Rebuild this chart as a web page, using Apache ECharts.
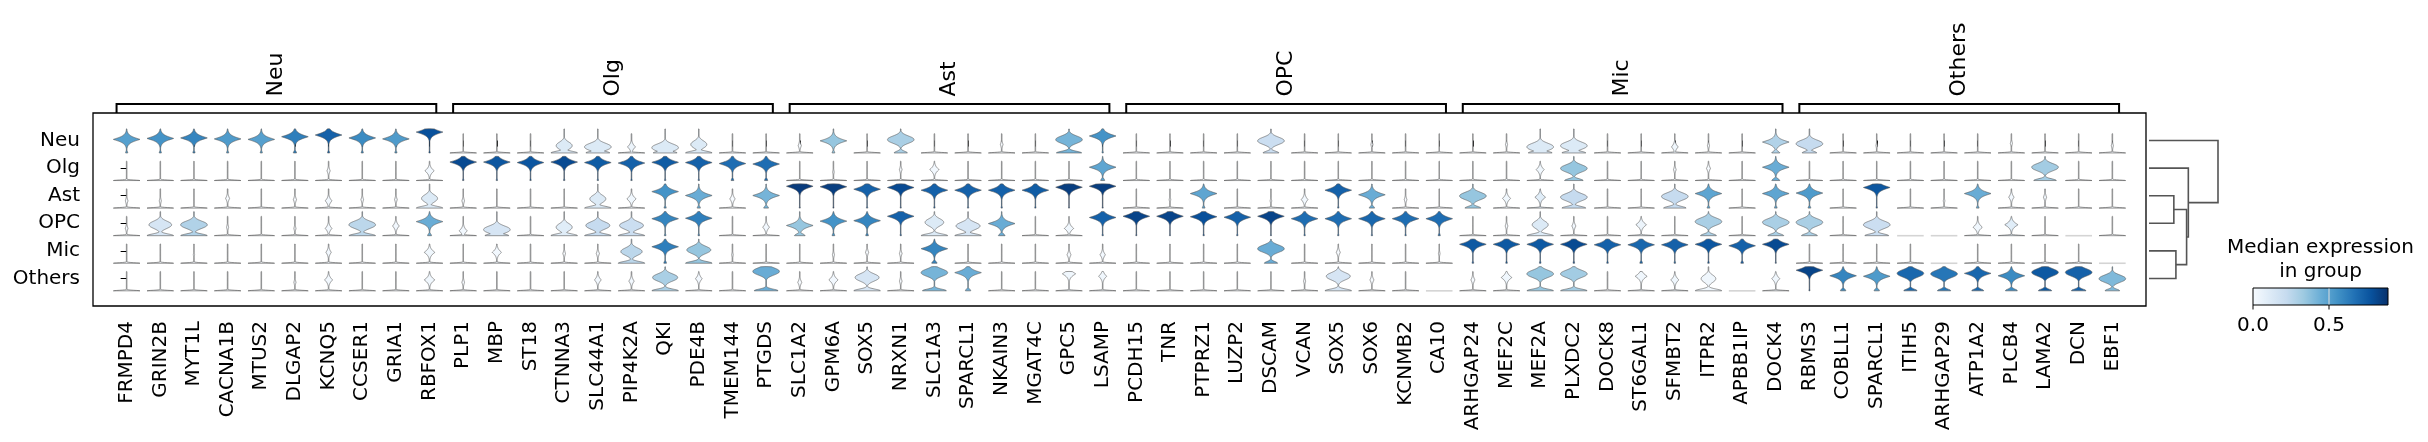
<!DOCTYPE html>
<html><head><meta charset="utf-8">
<script src="https://cdn.jsdelivr.net/npm/echarts@6/dist/echarts.min.js"></script>
<style>html,body{margin:0;padding:0;background:#fff}#c{width:2428px;height:442px}</style>
</head><body><div id="c"></div>
<script>
// ---------- data ----------
const GENES = ['FRMPD4','GRIN2B','MYT1L','CACNA1B','MTUS2','DLGAP2','KCNQ5','CCSER1','GRIA1','RBFOX1',
  'PLP1','MBP','ST18','CTNNA3','SLC44A1','PIP4K2A','QKI','PDE4B','TMEM144','PTGDS',
  'SLC1A2','GPM6A','SOX5','NRXN1','SLC1A3','SPARCL1','NKAIN3','MGAT4C','GPC5','LSAMP',
  'PCDH15','TNR','PTPRZ1','LUZP2','DSCAM','VCAN','SOX5','SOX6','KCNMB2','CA10',
  'ARHGAP24','MEF2C','MEF2A','PLXDC2','DOCK8','ST6GAL1','SFMBT2','ITPR2','APBB1IP','DOCK4',
  'RBMS3','COBLL1','SPARCL1','ITIH5','ARHGAP29','ATP1A2','PLCB4','LAMA2','DCN','EBF1'];
const GROUPS = ['Neu','Olg','Ast','OPC','Mic','Others'];
const GROUP_START = [0,10,20,30,40,50];
const GROUP_END = [9,19,29,39,49,59];
// each cell: [median expression (colour), peak position 0..1, blob width, width at zero]; blob width -1 = all zero
const NEU = [
[0.50,0.56,1,0.08],[0.55,0.60,1,0.08],[0.60,0.62,1,0.08],[0.52,0.58,1,0.08],[0.50,0.56,1,0.08],
[0.62,0.67,1,0.12],[0.72,0.74,1,0.08],[0.58,0.62,1,0.08],[0.52,0.58,1,0.08],[0.78,0.86,1,0.05],
[0,0,0,1],[0,0,0,1],[0,0,0,1],[0.12,0.3,0.6,1],[0.12,0.25,1,0.9],
[0.05,0.25,0.3,1],[0.12,0.22,1,0.9],[0.12,0.35,0.6,1],[0,0,0,1],[0,0,0,1],
[0,0.3,0.12,1],[0.35,0.5,1,0.1],[0,0,0,1],[0.3,0.55,1,0.5],[0,0,0,1],
[0,0,0,1],[0,0.35,0.1,1],[0,0,0,1],[0.42,0.55,1,0.95],[0.55,0.7,1,0.05],
[0,0,0,1],[0,0,0,1],[0,0,0,1],[0,0,0,1],[0.2,0.5,1,0.6],
[0,0,0,1],[0,0,0,1],[0,0.35,0.08,1],[0,0,0,1],[0,0,0,1],
[0,0,0,1],[0,0.35,0.08,1],[0.12,0.25,1,0.9],[0.12,0.3,1,0.9],[0,0,0,1],
[0,0,0,1],[0.03,0.25,0.25,1],[0,0.3,0.08,1],[0,0,0,1],[0.28,0.45,1,0.3],
[0.22,0.38,1,0.55],[0,0,0,1],[0,0.3,0.06,1],[0,0,0,1],[0,0,0,1],
[0,0,0,1],[0,0.4,0.08,1],[0,0,0,1],[0,0,0,1],[0,0.3,0.08,1]
];
const OLG = [
[0,0,0,1],[0,0,0,1],[0,0,0,1],[0,0,0,1],[0,0,0,1],
[0,0,0,1],[0,0.4,0.12,1],[0,0,0,1],[0,0,0,1],[0.02,0.4,0.35,1],
[0.80,0.76,1,0.05],[0.76,0.76,1,0.05],[0.76,0.74,1,0.05],[0.80,0.76,1,0.05],[0.74,0.74,1,0.05],
[0.72,0.72,1,0.05],[0.74,0.75,1,0.05],[0.72,0.74,1,0.05],[0.68,0.7,1,0.1],[0.68,0.68,1,0.12],
[0,0,0,1],[0,0.35,0.06,1],[0,0,0,1],[0,0.45,0.1,1],[0.02,0.45,0.35,1],
[0,0,0,1],[0,0,0,1],[0,0,0,1],[0,0,0,1],[0.48,0.55,1,0.15],
[0,0,0,1],[0,0,0,1],[0,0,0,1],[0,0,0,1],[0,0,0,1],
[0,0,0,1],[0,0,0,1],[0,0,0,1],[0,0,0,1],[0,0,0,1],
[0,0,0,1],[0,0,0,1],[0.03,0.45,0.3,1],[0.35,0.5,1,0.7],[0,0,0,1],
[0,0,0,1],[0,0.45,0.1,1],[0,0.5,0.15,1],[0,0,0,1],[0.45,0.55,1,0.3],
[0,0,0,1],[0,0,0,1],[0,0,0,1],[0,0,0,1],[0,0,0,1],
[0,0,0,1],[0,0,0,1],[0.32,0.55,1,0.85],[0,0,0,1],[0,0,0,1]
];
const AST = [
[0,0.3,0.1,1],[0,0.3,0.08,1],[0,0,0,1],[0,0.4,0.15,1],[0,0,0,1],
[0,0.35,0.12,1],[0.02,0.3,0.25,1],[0,0.35,0.1,1],[0,0.35,0.1,1],[0.12,0.4,0.6,1],
[0,0.3,0.1,1],[0,0,0,1],[0,0,0,1],[0,0,0,1],[0.12,0.38,0.6,1],
[0.03,0.38,0.35,1],[0.55,0.68,1,0.08],[0.45,0.52,1,0.12],[0,0.38,0.2,1],[0.42,0.52,1,0.18],
[0.85,0.9,1,0.04],[0.84,0.88,1,0.04],[0.72,0.78,1,0.05],[0.8,0.85,1,0.04],[0.72,0.74,1,0.05],
[0.72,0.74,1,0.05],[0.72,0.74,1,0.05],[0.74,0.74,1,0.05],[0.84,0.86,1,0.04],[0.84,0.9,1,0.04],
[0,0,0,1],[0,0.35,0.06,1],[0.48,0.6,1,0.1],[0,0,0,1],[0,0.3,0.06,1],
[0.02,0.35,0.25,1],[0.72,0.74,1,0.05],[0.45,0.55,1,0.2],[0,0.35,0.1,1],[0,0,0,1],
[0.35,0.5,1,0.6],[0.03,0.4,0.3,1],[0.1,0.45,0.4,1],[0.22,0.45,1,0.9],[0,0,0,1],
[0,0,0,1],[0.22,0.48,1,0.85],[0.48,0.6,1,0.1],[0,0,0,1],[0.48,0.6,1,0.1],
[0.52,0.62,1,0.1],[0,0,0,1],[0.76,0.85,1,0.05],[0,0,0,1],[0,0.3,0.06,1],
[0.45,0.6,1,0.1],[0.02,0.45,0.2,1],[0.02,0.45,0.12,1],[0,0,0,1],[0,0,0,1]
];
const OPC = [
[0,0.3,0.1,1],[0.15,0.45,0.85,1],[0.28,0.45,1,1],[0,0.35,0.08,1],[0,0,0,1],
[0,0.3,0.08,1],[0.02,0.3,0.25,1],[0.25,0.45,1,1],[0.02,0.4,0.25,1],[0.45,0.58,1,0.15],
[0.02,0.2,0.3,1],[0.15,0.25,1,0.9],[0,0,0,1],[0.1,0.35,0.6,1],[0.22,0.42,0.9,1],
[0.2,0.42,0.9,1],[0.6,0.7,1,0.06],[0.62,0.72,1,0.06],[0,0,0,1],[0.02,0.35,0.25,1],
[0.35,0.42,1,0.4],[0.55,0.6,1,0.1],[0.6,0.62,1,0.1],[0.72,0.8,1,0.05],[0.12,0.55,0.7,1],
[0.15,0.4,0.9,1],[0.45,0.5,1,0.25],[0,0,0,1],[0.03,0.3,0.35,1],[0.72,0.75,1,0.05],
[0.82,0.8,1,0.04],[0.82,0.8,1,0.04],[0.78,0.78,1,0.05],[0.72,0.76,1,0.05],[0.82,0.8,1,0.04],
[0.68,0.7,1,0.05],[0.68,0.7,1,0.05],[0.7,0.7,1,0.05],[0.68,0.7,1,0.05],[0.68,0.7,1,0.08],
[0,0,0,1],[0,0.4,0.1,1],[0.12,0.45,0.6,1],[0.02,0.4,0.15,1],[0,0,0,1],
[0.05,0.45,0.4,1],[0,0,0,1],[0.3,0.58,1,0.6],[0,0,0,1],[0.3,0.55,1,0.6],
[0.3,0.55,1,0.6],[0,0,0,1],[0.2,0.45,1,0.9],[0,0,-1,0],[0,0,-1,0],
[0.03,0.35,0.35,1],[0.1,0.45,0.5,1],[0,0,0,1],[0,0,-1,0],[0,0,0,1]
];
const MIC = [
[0,0,0,1],[0,0,0,1],[0,0.35,0.05,1],[0,0,0,1],[0,0,0,1],
[0,0,0,1],[0.02,0.45,0.2,1],[0,0,0,1],[0,0,0,1],[0.03,0.45,0.4,1],
[0,0,0,1],[0.02,0.45,0.35,1],[0,0,0,1],[0,0.4,0.1,1],[0,0.4,0.12,1],
[0.25,0.48,0.8,1],[0.62,0.68,1,0.1],[0.35,0.55,0.9,1],[0,0.35,0.06,1],[0,0,0,1],
[0,0,0,1],[0,0.35,0.08,1],[0,0.45,0.12,1],[0,0.4,0.1,1],[0.6,0.6,1,0.2],
[0,0,0,1],[0,0,0,1],[0,0,0,1],[0,0.35,0.15,1],[0.02,0.35,0.2,1],
[0,0,0,1],[0,0,0,1],[0,0,0,1],[0,0,0,1],[0.45,0.6,1,0.5],
[0,0,0,1],[0,0.45,0.15,1],[0,0,0,1],[0,0,0,1],[0,0.4,0.06,1],
[0.75,0.78,1,0.06],[0.75,0.78,1,0.06],[0.75,0.78,1,0.06],[0.8,0.78,1,0.06],[0.72,0.76,1,0.06],
[0.7,0.76,1,0.1],[0.72,0.76,1,0.06],[0.76,0.78,1,0.06],[0.72,0.72,1,0.1],[0.8,0.78,1,0.04],
[0,0,0,1],[0,0,0,1],[0,0,0,1],[0,0,0,1],[0,0,-1,0],
[0,0,0,1],[0,0,0,1],[0,0,0,1],[0,0,0,1],[0,0,-1,0]
];
const OTHERS = [
[0,0,0,1],[0,0,0,1],[0,0,0,1],[0,0,0,1],[0,0,0,1],
[0,0.35,0.08,1],[0.02,0.45,0.3,1],[0,0,0,1],[0,0,0,1],[0.03,0.45,0.4,1],
[0,0.35,0.1,1],[0,0,0,1],[0,0,0,1],[0,0,0,1],[0.02,0.45,0.25,1],
[0.02,0.4,0.2,1],[0.3,0.55,0.85,0.9],[0.02,0.5,0.25,1],[0,0,0,1],[0.45,0.8,1,0.9],
[0,0.35,0.15,1],[0.02,0.45,0.35,1],[0.15,0.55,0.9,1],[0,0.4,0.1,1],[0.42,0.75,1,0.9],
[0.45,0.75,1,0.2],[0,0,0,1],[0,0,0,1],[0.03,0.7,0.5,1],[0.03,0.6,0.3,1],
[0,0,0,1],[0,0,0,1],[0,0,0,1],[0,0,0,1],[0,0,0,1],
[0,0.4,0.08,1],[0.15,0.6,0.9,1],[0,0.45,0.15,1],[0,0,0,1],[0,0,-1,0],
[0,0.45,0.15,1],[0.03,0.55,0.4,1],[0.35,0.7,1,1],[0.32,0.7,1,1],[0,0,0,1],
[0.03,0.6,0.45,1],[0.03,0.45,0.3,1],[0.03,0.5,0.55,1],[0,0,-1,0],[0.03,0.5,0.3,1],
[0.82,0.85,1,0.04],[0.6,0.62,1,0.2],[0.52,0.6,1,0.2],[0.7,0.72,1,0.5],[0.65,0.7,1,0.5],
[0.7,0.72,1,0.45],[0.58,0.62,1,0.45],[0.75,0.76,1,0.5],[0.72,0.76,1,0.55],[0.4,0.5,1,0.55]
];
const ROWS = [NEU, OLG, AST, OPC, MIC, OTHERS];
// dendrogram: [childA, childB, height]; leaves 0..5, merged nodes 6..
const DEND_MERGES = [[2,3,0.36],[4,5,0.39],[6,7,0.545],[1,8,0.57],[0,9,1.0]];
const VMAX = 0.888;
const CBAR_TICKS = [0.0, 0.5];

// ---------- helpers ----------
const BLUES = ['#f7fbff','#deebf7','#c6dbef','#9ecae1','#6baed6','#4292c6','#2171b5','#08519c','#08306b'];
function hex2rgb(h){return [parseInt(h.slice(1,3),16),parseInt(h.slice(3,5),16),parseInt(h.slice(5,7),16)];}
function blues(t){
  t = Math.max(0, Math.min(1, t));
  const pos = t*(BLUES.length-1); const i = Math.min(BLUES.length-2, Math.floor(pos)); const f = pos-i;
  const a = hex2rgb(BLUES[i]), b = hex2rgb(BLUES[i+1]);
  return 'rgb(' + a.map((v,k)=>Math.round(v+(b[k]-v)*f)).join(',') + ')';
}
const FONT = '"DejaVu Sans", sans-serif';
const VW = 0.79, BASE_OFF = 0.45, TOP_OFF = 0.43, STEM = 0.022;

const violinData = [];
ROWS.forEach((row, r) => row.forEach((cell, g) => violinData.push([g, r].concat(cell))));

function renderViolin(params, api) {
  const g = api.value(0), r = api.value(1), c = api.value(2), p = api.value(3), a = api.value(4), z = api.value(5);
  const cx = api.coord([g, r])[0];
  const yb = api.coord([g, r + BASE_OFF])[1];
  const yt = api.coord([g, r - TOP_OFF])[1];
  const W = api.size([VW, 0])[0];
  if (a < 0) {
    return {type:'line', shape:{x1:cx-W/2, y1:yb, x2:cx+W/2, y2:yb}, style:{stroke:'#d4d4d4', lineWidth:1.6}, silent:true};
  }
  const zeroDom = a <= 0.5;
  const top = zeroDom ? 0.8 : 1.0;
  const rounded = z >= 0.5 && a > 0.5;
  const s = rounded ? 0.2 : 0.13, k = rounded ? 2.2 : 1.2;
  const bs = zeroDom ? 0.03 : 0.1;
  const N = 100; const ys = [], ws = []; let mx = 0;
  for (let i = 0; i <= N; i++) {
    const y = top*i/N;
    let w = Math.max(a*Math.exp(-Math.pow(Math.abs(y-p)/s, k)), z*Math.exp(-(y/bs)*(y/bs)), STEM);
    ys.push(y); ws.push(w); if (w > mx) mx = w;
  }
  ws[N] = 0;
  const H = yb - yt;
  const left = [], right = [];
  for (let i = 0; i <= N; i++) {
    const yy = yb - H*ys[i]; const hw = ws[i]/mx*W/2;
    left.push([cx-hw, yy]); right.push([cx+hw, yy]);
  }
  const pts = left.concat(right.reverse());
  return {type:'polygon', shape:{points:pts}, style:{fill:blues(c/VMAX), stroke:'#555', lineWidth:0.6}, silent:true};
}

function renderBracket(params, api) {
  const s = api.value(0), e = api.value(1);
  const x0 = api.coord([s - 0.3, -1])[0], x1 = api.coord([e + 0.2, -1])[0];
  const yBox = api.coord([s, -1])[1];
  const yTop = yBox - 9;
  return {type:'polyline', shape:{points:[[x0,yBox],[x0,yTop],[x1,yTop],[x1,yBox]]}, style:{stroke:'#000', lineWidth:2, fill:'none'}, silent:true};
}

// dendrogram node positions
const nodeY = [0,1,2,3,4,5], nodeH = [0,0,0,0,0,0];
const dendData = DEND_MERGES.map(m => {
  const [a, b, h] = m;
  const d = [nodeY[a], nodeH[a], nodeY[b], nodeH[b], h];
  nodeY.push((nodeY[a]+nodeY[b])/2); nodeH.push(h);
  return d;
});
function renderDend(params, api) {
  const ya = api.value(0), ha = api.value(1), yb = api.value(2), hb = api.value(3), h = api.value(4);
  const pts = [api.coord([ha, ya]), api.coord([h, ya]), api.coord([h, yb]), api.coord([hb, yb])];
  return {type:'polyline', shape:{points:pts}, style:{stroke:'#555', lineWidth:1.6, fill:'none'}, silent:true};
}

const geneIdx = GENES.map((_, i) => i);
const rowIdx = GROUPS.map((_, i) => i);
const groupCenters = GROUP_START.map((s, i) => (s - 0.3 + GROUP_END[i] + 0.2) / 2);

// colorbar
const CB = {x:2253, y:288, w:135, h:17};
const cbStops = BLUES.map((c, i) => ({offset: i/(BLUES.length-1), color: c}));
const graphics = [
  {type:'text', x:CB.x+CB.w/2, y:248, style:{text:'Median expression', font:'20px '+FONT, fill:'#000', align:'center', verticalAlign:'middle'}},
  {type:'text', x:CB.x+CB.w/2, y:272, style:{text:'in group', font:'20px '+FONT, fill:'#000', align:'center', verticalAlign:'middle'}},
  {type:'rect', shape:{x:CB.x, y:CB.y, width:CB.w, height:CB.h},
   style:{fill:new echarts.graphic.LinearGradient(0,0,1,0,cbStops), stroke:'#000', lineWidth:1}}
];
CBAR_TICKS.forEach(v => {
  const x = CB.x + v/VMAX*CB.w;
  if (v > 0) graphics.push({type:'line', shape:{x1:x, y1:CB.y+0.5, x2:x, y2:CB.y+CB.h-0.5}, style:{stroke:'#e0e0e0', lineWidth:1}});
  graphics.push({type:'line', shape:{x1:x, y1:CB.y+CB.h, x2:x, y2:CB.y+CB.h+4.5}, style:{stroke:'#000', lineWidth:1}});
  graphics.push({type:'text', x:x, y:326, style:{text:v.toFixed(1), font:'20px '+FONT, fill:'#000', align:'center', verticalAlign:'middle'}});
});

const chart = echarts.init(document.getElementById('c'), null, {renderer:'canvas'});
chart.setOption({
  animation:false,
  backgroundColor:'#fff',
  grid:[
    {left:93, right:282, top:113, bottom:136, show:true, borderColor:'#000', borderWidth:1.3, backgroundColor:'transparent'},
    {left:2149, right:210, top:113, bottom:136}
  ],
  xAxis:[
    {gridIndex:0, type:'value', min:-1, max:60, splitLine:{show:false}, axisLine:{show:false},
     axisTick:{show:true, customValues:geneIdx, length:6, lineStyle:{color:'#000', width:1}},
     axisLabel:{customValues:geneIdx, rotate:90, margin:15, fontSize:20, fontFamily:FONT, color:'#000',
       formatter:v => GENES[Math.round(v)] || ''}},
    {gridIndex:1, type:'value', min:0, max:1, show:false},
    {gridIndex:0, type:'value', position:'top', min:-1, max:60, splitLine:{show:false}, axisLine:{show:false},
     axisTick:{show:false},
     axisLabel:{customValues:groupCenters, rotate:-90, margin:16.5, fontSize:22, fontFamily:FONT, color:'#000',
       formatter:v => { const i = groupCenters.findIndex(c => Math.abs(c - v) < 1e-6); return i >= 0 ? GROUPS[i] : ''; }}}
  ],
  yAxis:[
    {gridIndex:0, type:'value', inverse:true, min:-1, max:6, splitLine:{show:false}, axisLine:{show:false},
     axisTick:{show:true, customValues:rowIdx, length:6, lineStyle:{color:'#000', width:1}},
     axisLabel:{customValues:rowIdx, margin:13, fontSize:20, fontFamily:FONT, color:'#000',
       formatter:v => GROUPS[Math.round(v)] || ''}},
    {gridIndex:1, type:'value', inverse:true, min:-1, max:6, show:false}
  ],
  series:[
    {type:'custom', xAxisIndex:0, yAxisIndex:0, renderItem:renderViolin, data:violinData, silent:true},
    {type:'custom', xAxisIndex:0, yAxisIndex:0, renderItem:renderBracket,
     data:GROUP_START.map((s,i)=>[s, GROUP_END[i]]), silent:true},
    {type:'custom', xAxisIndex:1, yAxisIndex:1, renderItem:renderDend, data:dendData, silent:true}
  ],
  graphic:graphics
});
</script></body></html>
